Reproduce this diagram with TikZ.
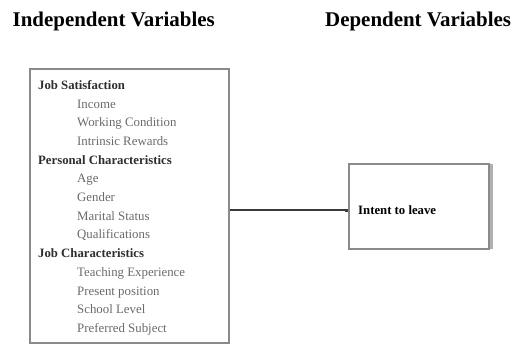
\documentclass[tikz,border=0pt]{standalone}
\usepackage{fontspec}
\setmainfont{Liberation Serif}
\usetikzlibrary{arrows.meta}
\definecolor{boxgray}{HTML}{8A8A8A}
\definecolor{itemgray}{HTML}{6A6A6A}
\definecolor{headgray}{HTML}{2E2E2E}
\definecolor{shadowgray}{HTML}{B0B0B0}
\definecolor{linegray}{HTML}{3A3A3A}
\tikzset{
  title/.style={anchor=base west, inner sep=0pt, font=\fontsize{21}{23}\selectfont\bfseries, text=black},
  grouphead/.style={anchor=base west, inner sep=0pt, font=\fontsize{12.8}{14}\selectfont\bfseries, text=headgray},
  item/.style={anchor=base west, inner sep=0pt, font=\fontsize{12.9}{14}\selectfont, text=itemgray},
  varbox/.style={draw=boxgray, line width=1.1bp, inner sep=0pt},
}
\begin{document}
\begin{tikzpicture}[x=1bp, y=-1bp]
\useasboundingbox (0,0) rectangle (521,345);
\node[title] (indep) at (12.5,26.7) {Independent Variables};
\node[title] (dep) at (325,26.7) {Dependent Variables};
% left box
\node[varbox, minimum width=199bp, minimum height=274bp] (lbox) at (129.5,206) {};
\node[grouphead] (g1) at (38,89.3) {Job Satisfaction};
\node[item] (i1) at (77,108.0) {Income};
\node[item] (i2) at (77,126.7) {Working Condition};
\node[item] (i3) at (77,145.4) {Intrinsic Rewards};
\node[grouphead] (g2) at (38,164.1) {Personal Characteristics};
\node[item] (i4) at (77,182.8) {Age};
\node[item] (i5) at (77,201.5) {Gender};
\node[item] (i6) at (77,220.2) {Marital Status};
\node[item] (i7) at (77,238.9) {Qualifications};
\node[grouphead] (g3) at (38,257.6) {Job Characteristics};
\node[item] (i8) at (77,276.3) {Teaching Experience};
\node[item] (i9) at (77,295.0) {Present position};
\node[item] (i10) at (77,313.7) {School Level};
\node[item] (i11) at (77,332.4) {Preferred Subject};
% right box
\node[varbox, minimum width=140bp, minimum height=85bp] (rbox) at (419,206.5) {};
\draw[shadowgray, line width=3bp] ([xshift=2bp,yshift=-0.5bp]rbox.north east) -- ([xshift=2bp,yshift=0.5bp]rbox.south east);
\node[grouphead, text=black] (itl) at (358,214) {Intent to leave};
% connector
\coordinate (cstart) at (lbox.east |- 0,210);
\coordinate (cend) at (rbox.west |- 0,210);
\draw[linegray, line width=2bp, -{Square[length=3bp,width=3bp]}] (cstart) -- (cend);
\end{tikzpicture}
\end{document}
